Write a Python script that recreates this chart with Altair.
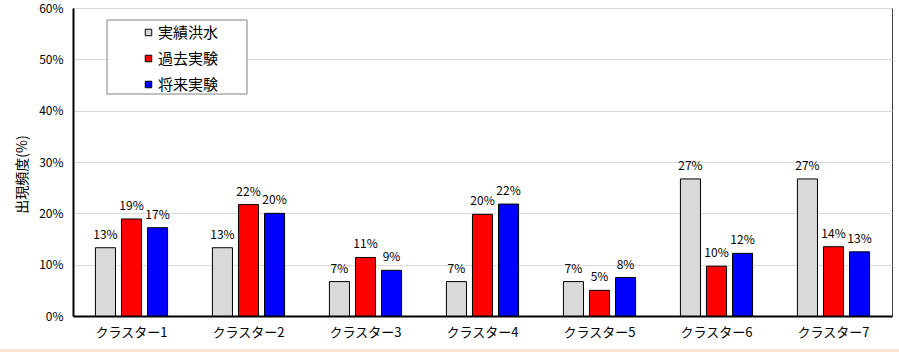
import altair as alt
import pandas as pd

# Cluster categories and occurrence frequency (%) for each series
clusters = ["クラスター1", "クラスター2", "クラスター3", "クラスター4",
            "クラスター5", "クラスター6", "クラスター7"]
series_names = ["実績洪水", "過去実験", "将来実験"]
observed = [13.3, 13.3, 6.7, 6.7, 6.7, 26.7, 26.7]
past_exp = [18.9, 21.7, 11.4, 19.8, 5.0, 9.7, 13.5]
future_exp = [17.2, 20.0, 8.9, 21.8, 7.5, 12.2, 12.5]
series_colors = ["#d9d9d9", "#ff0000", "#0000ff"]
y_ticks = [0, 10, 20, 30, 40, 50, 60]

rows = []
for name, vals in zip(series_names, [observed, past_exp, future_exp]):
    for c, v in zip(clusters, vals):
        rows.append({"cluster": c, "series": name, "value": v})
df = pd.DataFrame(rows)

NUM_FONT = "Liberation Sans Narrow, Arial Narrow, Noto Sans CJK JP, sans-serif"
JP_FONT = "Noto Sans CJK JP, sans-serif"

x_enc = alt.X("cluster:N", sort=clusters, title=None,
              scale=alt.Scale(paddingInner=0, paddingOuter=0),
              axis=alt.Axis(labelAngle=0, ticks=False, labelFont=JP_FONT,
                            labelFontSize=13, labelColor="#000",
                            labelPadding=10, domainColor="#000",
                            domainWidth=2))
xoff_enc = alt.XOffset("series:N", sort=series_names,
                       scale=alt.Scale(paddingInner=0.23, paddingOuter=0.86))
y_enc = alt.Y("value:Q", title="出現頻度(%)",
              scale=alt.Scale(domain=[0, 60], nice=False),
              axis=alt.Axis(values=y_ticks, labelExpr="datum.value + '%'",
                            ticks=False, labelFont=NUM_FONT, labelFontSize=12,
                            labelColor="#000", labelPadding=10,
                            domainColor="#000", domainWidth=2,
                            gridColor="#d9d9d9", gridWidth=1,
                            titleFont=JP_FONT, titleFontSize=14,
                            titleFontWeight="normal", titleColor="#000",
                            titleX=-51, titleY=166, titleAngle=-90,
                            titleAlign="center", titleBaseline="middle"))

base = alt.Chart(df)

bars = base.mark_bar(stroke="#000", strokeWidth=1).encode(
    x=x_enc,
    xOffset=xoff_enc,
    y=y_enc,
    color=alt.Color("series:N", sort=series_names,
                    scale=alt.Scale(domain=series_names, range=series_colors),
                    legend=alt.Legend(title=None, orient="none",
                                      legendX=68, legendY=17,
                                      symbolType="square", symbolSize=42,
                                      symbolStrokeColor="#000",
                                      symbolStrokeWidth=1,
                                      labelFont=JP_FONT, labelFontSize=15,
                                      labelColor="#000", labelOffset=2,
                                      rowPadding=10, padding=0)),
)

labels = base.transform_calculate(
    label="format(datum.value, '.0f') + '%'"
).mark_text(font=NUM_FONT, fontSize=12, color="#000", baseline="alphabetic",
            dy=-9).encode(
    x=alt.X("cluster:N", sort=clusters),
    xOffset=alt.XOffset("series:N", sort=series_names),
    y="value:Q",
    text="label:N",
)

# Frame behind the legend entries
legend_box = alt.Chart(pd.DataFrame({"k": [0]})).mark_rect(
    fill="#ffffff", stroke="#808080", strokeWidth=1
).encode(x=alt.value(34), x2=alt.value(174), y=alt.value(12), y2=alt.value(86))

# Thin tinted strip along the bottom edge
bottom_strip = alt.Chart(pd.DataFrame({"k": [0]})).mark_rect(
    fill="#fbe5d6", strokeWidth=0
).encode(x=alt.value(-73), x2=alt.value(826), y=alt.value(341), y2=alt.value(350))

chart = alt.layer(bars, labels, legend_box, bottom_strip).properties(
    width=819, height=308,
    padding={"left": 73, "top": 8, "right": 7, "bottom": 36},
    autosize=alt.AutoSizeParams(type="none"),
    background="#ffffff",
).configure_view(stroke="#404040", strokeWidth=1)

chart.save("out.html", embed_options={"renderer": "svg", "actions": False})
